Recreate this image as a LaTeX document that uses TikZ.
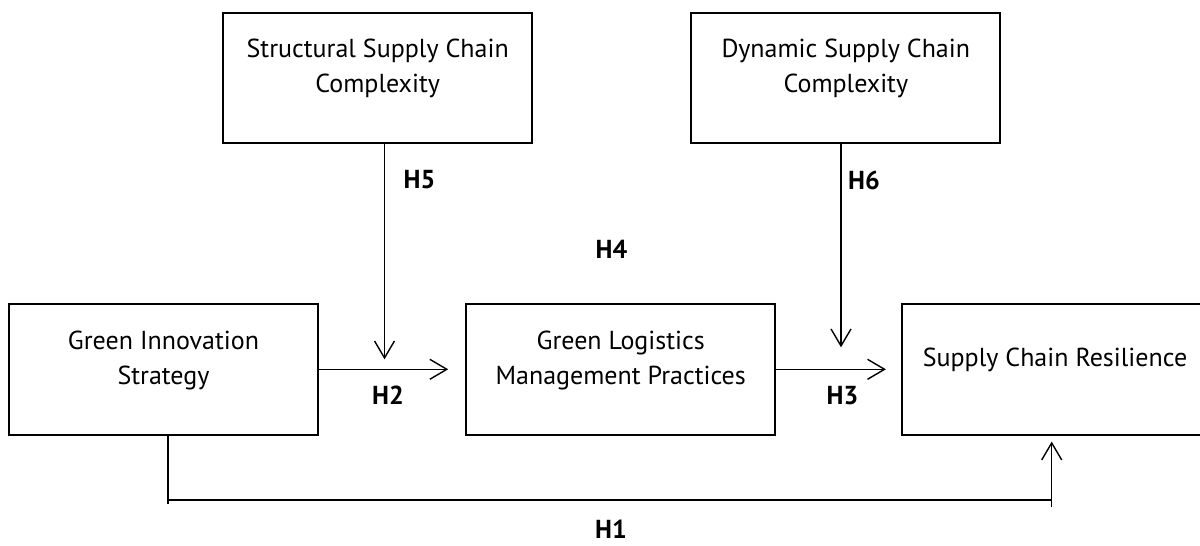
\documentclass[tikz,border=0pt]{standalone}
\usepackage{fontspec}
\setmainfont{PT Sans}
\usetikzlibrary{arrows.meta,calc}
\begin{document}
\begin{tikzpicture}[x=1pt,y=-1pt,
  box/.style={draw, line width=2pt, minimum width=309pt, minimum height=130.5pt, inner sep=0pt},
  boxtext/.style={align=center, font=\fontsize{26}{35}\selectfont, anchor=base, inner sep=0pt},
  hyp/.style={font=\fontsize{26}{30}\selectfont\bfseries, inner sep=0pt},
  link/.style={line width=1.4pt, -{Straight Barb[length=17pt,width=20pt,line width=1.4pt]}},
  pathline/.style={line width=2pt}]

\fill[white] (0,0) rectangle (1200,546);
\useasboundingbox (0,0) rectangle (1200,546);

% constructs (text nodes sit on the baseline of their last line)
\node[box] (sscc) at (377.7,77.8) {};
\node[boxtext] (sscc-t) at (377.7,92.5) {Structural Supply Chain\\Complexity};
\node[box] (dscc) at (845.9,77.8) {};
\node[boxtext] (dscc-t) at (845.9,92.5) {Dynamic Supply Chain\\Complexity};
\node[box] (gis) at (163.5,369.3) {};
\node[boxtext] (gis-t) at (163.5,384.5) {Green Innovation\\Strategy};
\node[box] (glm) at (620.7,369.3) {};
\node[boxtext] (glm-t) at (620.7,384.5) {Green Logistics\\Management Practices};
\node[box] (scr) at (1056,369.3) {};
\node[boxtext] (scr-t) at (1055,366.7) {Supply Chain Resilience};

% moderating paths
\coordinate (t5) at (384.5,359.3);
\draw[link] (sscc.south -| t5) -- (t5);
\coordinate (t6) at (841,347.3);
\draw[link] (dscc.south -| t6) -- (t6);

% mediation paths
\draw[link, shorten >=17pt] (gis.east) -- (glm.west);
\draw[link, shorten >=14.6pt] (glm.east) -- (scr.west);

% direct path
\coordinate (c1) at (167.5,500);
\coordinate (c2) at (1051.7,500);
\draw[pathline] (gis.south -| c1) -- ($(c1)+(0,4)$);
\draw[pathline] (c1) -- (c2);
\draw[link, shorten >=6pt] ($(c2)+(0,7)$) -- (scr.south -| c2);

% hypothesis labels
\node[hyp] (h5) at (419.5,180) {H5};
\node[hyp] (h6) at (864,180) {H6};
\node[hyp] (h4) at (611.5,249) {H4};
\node[hyp] (h2) at (388,395.5) {H2};
\node[hyp] (h3) at (842.5,395.5) {H3};
\node[hyp] (h1) at (611,529) {H1};
\end{tikzpicture}
\end{document}
